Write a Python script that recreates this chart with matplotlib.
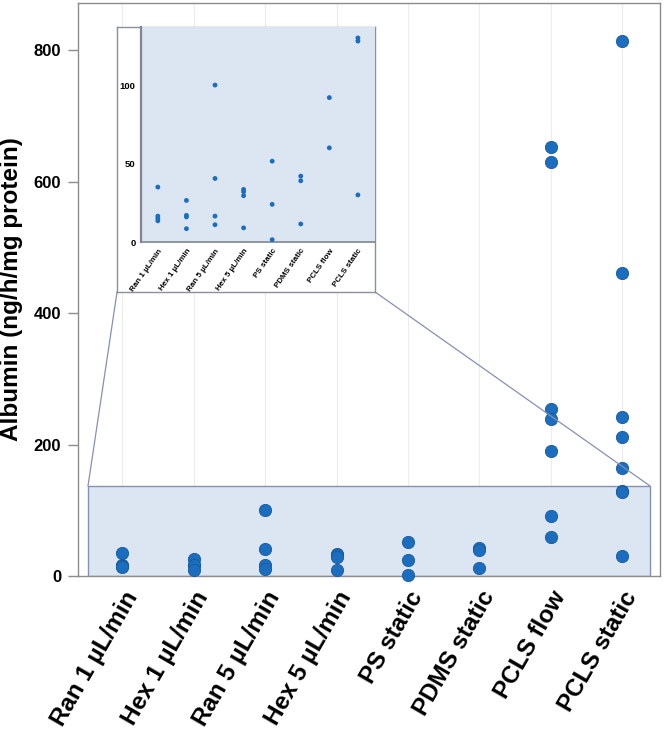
import numpy as np
import matplotlib
matplotlib.use('Agg')
import matplotlib.pyplot as plt
from matplotlib.patches import Rectangle, ConnectionPatch

plt.rcParams['font.family'] = ['Liberation Sans', 'DejaVu Sans']

# ── data ─────────────────────────────────────────────
categories = ['Ran 1 µL/min', 'Hex 1 µL/min', 'Ran 5 µL/min', 'Hex 5 µL/min',
              'PS static', 'PDMS static', 'PCLS flow', 'PCLS static']
ran1  = [35, 16.5, 15, 13.5]
hex1  = [26.5, 17, 16, 8.5]
ran5  = [100, 40.5, 16.5, 11]
hex5  = [33.5, 32, 29.5, 9]
ps    = [51.5, 24, 1.5]
pdms  = [42, 39, 11.5]
pcls_flow   = [653, 630, 254, 239, 190, 92, 60]
pcls_static = [814, 461, 242, 211, 164, 130, 128, 30]
groups = [ran1, hex1, ran5, hex5, ps, pdms, pcls_flow, pcls_static]

main_yticks  = [0, 200, 400, 600, 800]
inset_yticks = [0, 50, 100]
zoom_top = 137

DOT = '#1b6dbf'
DOT_EDGE = '#185a9c'
SHADE = '#dce6f2'
LINE = '#8590b3'
FRAME = '#8c8c8c'

fig = plt.figure(figsize=(6.65, 7.29), dpi=100)

# ── main axes ───────────────────────────────────────
ax = fig.add_axes([0.1173, 0.2099, 0.8752, 0.7860])
x = np.arange(len(categories))
for i, vals in enumerate(groups):
    ax.scatter([i] * len(vals), vals, s=78, color=DOT, edgecolor=DOT_EDGE,
               linewidth=0.6, zorder=4, clip_on=False)

ax.add_patch(Rectangle((-0.48, 0), 7.87, zoom_top, facecolor=SHADE,
                       edgecolor=LINE, linewidth=1.0, zorder=2))

ax.set_xlim(-0.62, 7.53)
ax.set_ylim(0, 872)
ax.set_xticks(x)
ax.set_xticklabels(categories, rotation=60, ha='right', rotation_mode='anchor',
                   fontsize=17.5, fontweight='bold')
ax.tick_params(axis='x', length=0, pad=8)
ax.set_yticks(main_yticks)
ax.set_yticklabels([str(t) for t in main_yticks], fontsize=12, fontweight='bold')
ax.tick_params(axis='y', length=7, width=1, color=FRAME, pad=5)
ax.set_ylabel('Albumin (ng/h/mg protein)', fontsize=17.5, fontweight='bold')
ax.yaxis.set_label_coords(-0.094, 0.5)
ax.grid(axis='x', color='#ececec', linewidth=0.8, zorder=0)
ax.set_axisbelow(True)
for s in ax.spines.values():
    s.set_color(FRAME)
    s.set_linewidth(1.0)

# ── inset (outer white box + inner shaded axes) ───
box = fig.add_axes([0.176, 0.5995, 0.388, 0.3635])
box.set_xticks([])
box.set_yticks([])
box.set_facecolor('white')
for s in box.spines.values():
    s.set_color('#8a8f9a')
    s.set_linewidth(1.0)
box.set_zorder(5)

ins = fig.add_axes([0.212, 0.668, 0.352, 0.295])
ins.set_zorder(6)
ins.set_facecolor(SHADE)
for i, vals in enumerate(groups):
    ins.scatter([i] * len(vals), vals, s=12, color=DOT, edgecolor='none', zorder=3)
ins.set_xlim(-0.59, 7.6)
ins.set_ylim(0, zoom_top)
ins.set_xticks(x)
ins.set_xticklabels(categories, rotation=55, ha='right', rotation_mode='anchor',
                    fontsize=5.8, fontweight='bold')
ins.set_yticks(inset_yticks)
ins.set_yticklabels([str(t) for t in inset_yticks], fontsize=6.8, fontweight='bold')
ins.tick_params(axis='both', length=0, pad=4)
ins.spines['left'].set_color('#7f8591')
ins.spines['left'].set_linewidth(1.6)
ins.spines['bottom'].set_color('#7f8591')
ins.spines['bottom'].set_linewidth(1.2)
ins.spines['top'].set_visible(False)
ins.spines['right'].set_visible(False)

# connector lines from the shaded zoom region to the inset box
for xa, xd in [(0, -0.48), (1, 7.39)]:
    con = ConnectionPatch(xyA=(xa, 0), coordsA=box.transAxes,
                          xyB=(xd, zoom_top), coordsB=ax.transData,
                          color=LINE, linewidth=0.9)
    fig.add_artist(con)

fig.savefig('out.png', dpi=100)
